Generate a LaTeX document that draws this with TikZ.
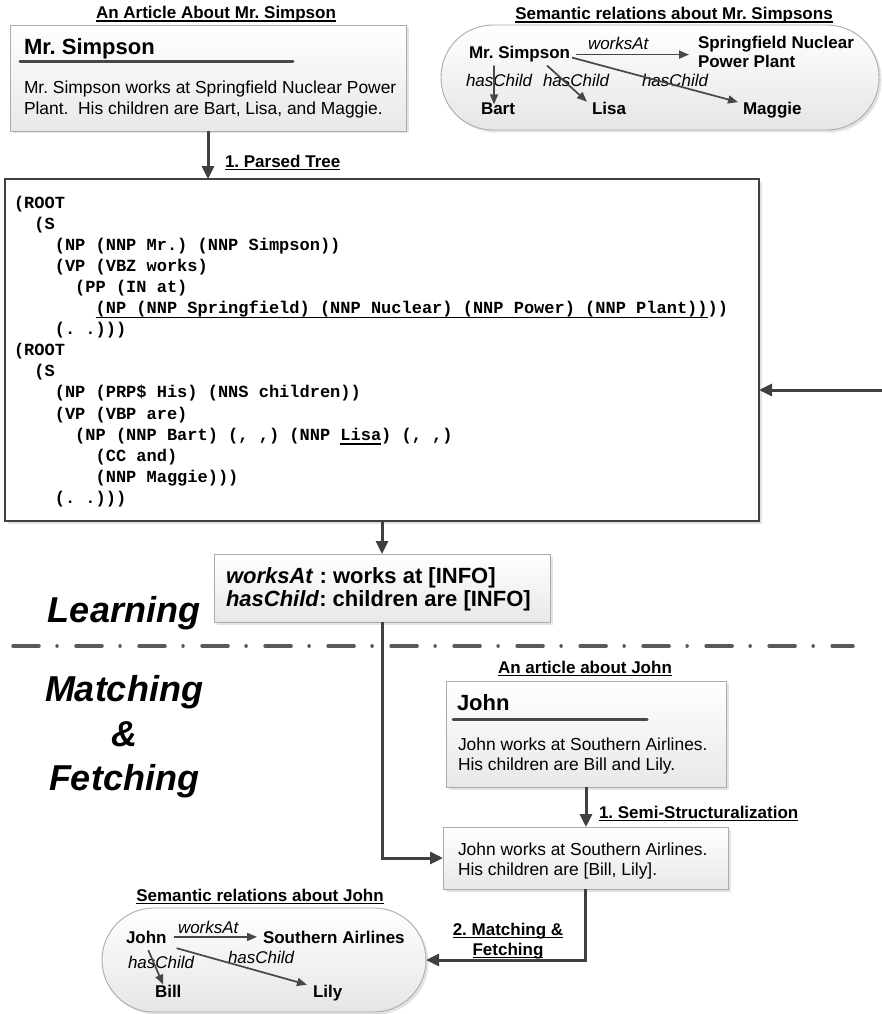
\documentclass[tikz,border=0pt]{standalone}
\usepackage{fontspec}
\setmainfont{Liberation Sans}
\setmonofont{Liberation Mono}
\usetikzlibrary{arrows.meta,shadows,calc}
\frenchspacing
\newcommand\fs[2]{\fontsize{#1}{#2}\selectfont}
\newcommand\hul[1]{\setbox0=\hbox{#1}\rlap{\rule[-2.8pt]{\wd0}{1.3pt}}\box0}
\newcommand\tul[1]{\setbox0=\hbox{#1}\rlap{\rule[-4.8pt]{\wd0}{1.6pt}}\box0}
\begin{document}
\frenchspacing
\begin{tikzpicture}[x=1pt,y=-1pt,
  every node/.style={inner sep=0pt,outer sep=0pt},
  shad/.style={drop shadow={opacity=0.22,shadow xshift=2.5pt,shadow yshift=-2.5pt}},
  box/.style={draw=black!33,line width=0.9pt,top color=white,bottom color=black!9,shad},
  stadium/.style={draw=black!33,line width=0.9pt,top color=white,bottom color=black!10,rounded corners=52pt,shad},
  heading/.style={anchor=base,font=\bfseries\fs{17}{20}},
  title/.style={anchor=base west,font=\bfseries\fs{22}{26}},
  body/.style={anchor=base west,font=\fs{17.4}{20}},
  pattxt/.style={anchor=base west,font=\bfseries\fs{22}{26}},
  tree/.style={anchor=base west,font=\ttfamily\bfseries\fs{17}{21}},
  rtext/.style={anchor=base west,font=\bfseries\fs{17}{19}},
  elabel/.style={anchor=base west,font=\itshape\fs{17}{19}},
  big/.style={anchor=base,font=\bfseries\itshape\fs{36}{42}},
  conn/.style={draw=black!75,line width=3pt,-{Triangle[length=13pt,width=12pt]}},
  rel/.style={draw=black!72,line width=1.7pt,-{Triangle[length=10pt,width=8pt]}},
  titlerule/.style={draw=black!72,line width=3pt,line cap=round},
  sepline/.style={draw=black!65,line width=3.5pt,line cap=round,dash pattern=on 26pt off 18pt on 0.01pt off 19pt}
]
\useasboundingbox (0,0) rectangle (882,1014);

% ---------- top left article ----------
\node[heading] (h1) at (216,19) {\hul{An Article About Mr. Simpson}};
\node[box,minimum width=396,minimum height=106] (art1) at (208,78) {};
\node[title] (t1) at (24,55) {Mr. Simpson};
\draw[titlerule] (20,62) -- (293,62);
\node[body] (b1a) at (24,94) {Mr. Simpson works at Springfield Nuclear Power};
\node[body] (b1b) at (24,114) {Plant.\ \ His children are Bart, Lisa, and Maggie.};

% ---------- top right relations ----------
\node[heading] (h2) at (674,20) {\hul{Semantic relations about Mr. Simpsons}};
\node[stadium,minimum width=438,minimum height=105] (srel) at (660,77.5) {};
\node[rtext] (ms) at (469,59) {Mr. Simpson};
\node[rtext] (spn) at (698,49) {Springfield Nuclear};
\node[rtext] (pp) at (698,68) {Power Plant};
\node[rtext] (bart) at (481,115) {Bart};
\node[rtext] (lisa) at (592,115) {Lisa};
\node[rtext] (mag) at (743,115) {Maggie};
\node[elabel] (wa1) at (588,50) {worksAt};
\node[elabel] (hc1) at (466,87) {hasChild};
\node[elabel] (hc2) at (543,87) {hasChild};
\node[elabel] (hc3) at (642,87) {hasChild};
\draw[rel] ($(ms.east)+(6,0)$) -- ($(spn.west|-ms.east)+(-9,0)$);
\draw[rel] ($(ms.south west)+(25,3)$) -- ($(bart.north)+(-4,1)$);
\draw[rel] ($(ms.south west)+(78,3)$) -- ($(lisa.north west)+(-5,-1)$);
\draw[rel] ($(ms.east)+(2,3)$) -- ($(mag.north west)+(-5,-0.6)$);

% ---------- parse tree ----------
\node[draw=black!75,line width=2.4pt,fill=white,minimum width=754,minimum height=342,shad] (tree) at (382,350) {};
\node[tree] (r1)  at (14,208)      {(ROOT};
\node[tree] (r2)  at (34.4,229.1)  {(S};
\node[tree] (r3)  at (54.8,250.2)  {(NP (NNP Mr.) (NNP Simpson))};
\node[tree] (r4)  at (54.8,271.3)  {(VP (VBZ works)};
\node[tree] (r5)  at (75.2,292.4)  {(PP (IN at)};
\node[tree] (r6)  at (95.6,313.5)  {\tul{(NP (NNP Springfield) (NNP Nuclear) (NNP Power) (NNP Plant))}))};
\node[tree] (r7)  at (54.8,334.6)  {(. .)))};
\node[tree] (r8)  at (14,355.7)    {(ROOT};
\node[tree] (r9)  at (34.4,376.8)  {(S};
\node[tree] (r10) at (54.8,397.9)  {(NP (PRP\$ His) (NNS children))};
\node[tree] (r11) at (54.8,419.0)  {(VP (VBP are)};
\node[tree] (r12) at (75.2,440.1)  {(NP (NNP Bart) (, ,) (NNP \tul{Lisa}) (, ,)};
\node[tree] (r13) at (95.6,461.2)  {(CC and)};
\node[tree] (r14) at (95.6,482.3)  {(NNP Maggie)))};
\node[tree] (r15) at (54.8,503.4)  {(. .)))};

\draw[conn] (art1.south) -- (art1.south|-tree.north);
\node[heading,anchor=base west] (l1) at (225,167) {\hul{1. Parsed Tree}};
\coordinate (rin) at (882,390);
\draw[conn] (rin) -- (tree.east|-rin);

% ---------- patterns ----------
\node[box,minimum width=336,minimum height=68] (pat) at (382,588) {};
\node[pattxt] (p1) at (226,583) {\textit{worksAt} : works at [INFO]};
\node[pattxt] (p2) at (226,606) {\textit{hasChild}: children are [INFO]};
\draw[conn] (tree.south) -- (tree.south|-pat.north);

\node[big] (learn) at (124,622) {Learning};
\draw[sepline] (13,646) -- (853,646);
\node[big] (mat) at (124,701) {Matching};
\node[big] (amp) at (124,746) {\&};
\node[big] (fet) at (124,790) {Fetching};

% ---------- John article ----------
\node[heading] (h3) at (585,673) {\hul{An article about John}};
\node[box,minimum width=280,minimum height=106] (jart) at (586,734) {};
\node[title] (t2) at (457,710) {John};
\draw[titlerule] (453,719) -- (647,719);
\node[body] (b2a) at (458,750) {John works at Southern Airlines.};
\node[body] (b2b) at (458,770) {His children are Bill and Lily.};

\node[box,minimum width=285,minimum height=62] (sem) at (585.5,858) {};
\node[body] (s1) at (458,855) {John works at Southern Airlines.};
\node[body] (s2) at (458,875) {His children are [Bill, Lily].};
\draw[conn] (jart.south) -- (jart.south|-sem.north);
\node[heading,anchor=base west] (l2) at (599,818) {\hul{1. Semi-Structuralization}};
\draw[conn] (pat.south) |- (sem.west);

% ---------- John relations ----------
\node[heading] (h4) at (260,901) {\hul{Semantic relations about John}};
\node[stadium,minimum width=324,minimum height=104] (jrel) at (264,960) {};
\node[rtext] (john) at (126,943) {John};
\node[rtext] (sa) at (263,943) {Southern Airlines};
\node[rtext] (bill) at (155,997) {Bill};
\node[rtext] (lily) at (313,997) {Lily};
\node[elabel] (wa2) at (178,933) {worksAt};
\node[elabel] (hc4) at (128,968) {hasChild};
\node[elabel] (hc5) at (228,963) {hasChild};
\draw[rel] ($(john.east)+(7,0)$) -- ($(sa.west|-john.east)+(-6,0)$);
\draw[rel] ($(john.south)+(2,7)$) -- ($(bill.north)+(-5,0)$);
\draw[rel] ($(john.south east)+(10,5)$) -- ($(lily.north west)+(-6,0)$);

\draw[conn] (sem.south) |- (jrel.east);
\node[heading] (l3a) at (508,935) {\hul{2. Matching \&}};
\node[heading] (l3b) at (508,955) {\hul{Fetching}};
\end{tikzpicture}
\end{document}
